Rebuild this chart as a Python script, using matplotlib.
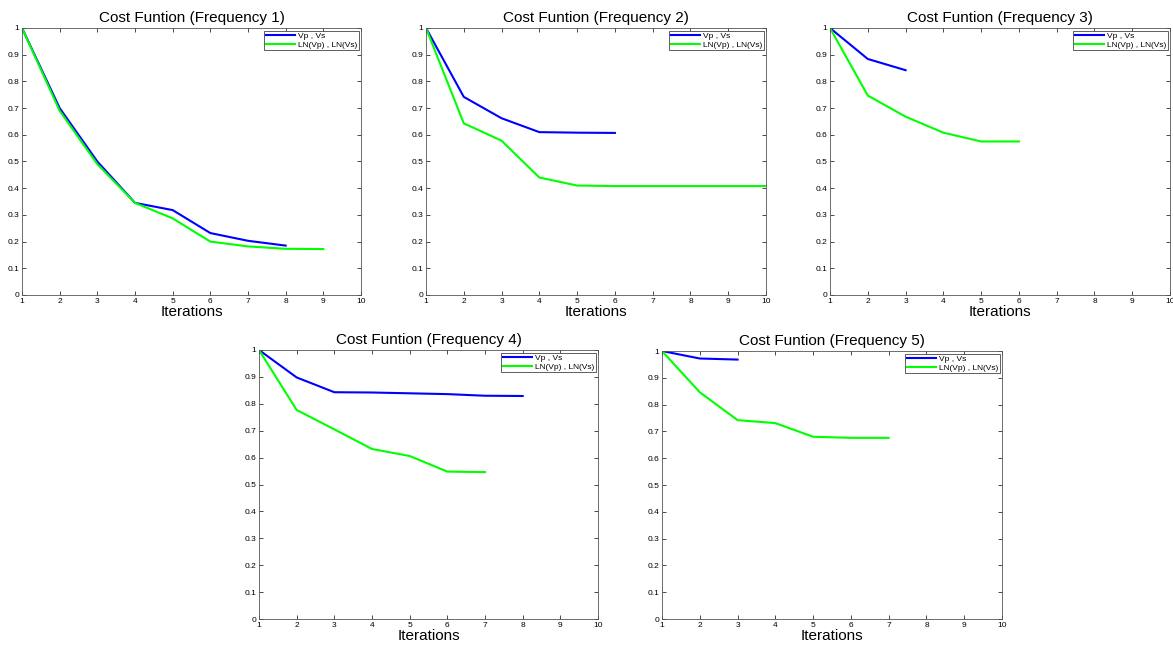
import matplotlib
matplotlib.use('Agg')
import matplotlib.pyplot as plt

plt.rcParams['font.family'] = ['Liberation Sans', 'DejaVu Sans']

# cost function values per frequency (normalised)
iters = list(range(1, 11))
f1_vp = [1.0, 0.70, 0.50, 0.345, 0.318, 0.232, 0.203, 0.185]
f1_ln = [1.0, 0.69, 0.49, 0.345, 0.287, 0.200, 0.182, 0.173, 0.172]
f2_vp = [1.0, 0.742, 0.662, 0.610, 0.608, 0.607]
f2_ln = [1.0, 0.643, 0.578, 0.440, 0.410, 0.408, 0.408, 0.408, 0.408, 0.408]
f3_vp = [1.0, 0.884, 0.842]
f3_ln = [1.0, 0.747, 0.668, 0.608, 0.575, 0.575]
f4_vp = [1.0, 0.898, 0.843, 0.842, 0.839, 0.836, 0.830, 0.829]
f4_ln = [1.0, 0.777, 0.705, 0.632, 0.606, 0.548, 0.546]
f5_vp = [1.0, 0.972, 0.968]
f5_ln = [1.0, 0.846, 0.742, 0.731, 0.680, 0.676, 0.676]

series = [(f1_vp, f1_ln), (f2_vp, f2_ln), (f3_vp, f3_ln), (f4_vp, f4_ln), (f5_vp, f5_ln)]

W, H = 1173, 645
# axes boxes in pixels: left, right, top, bottom
boxes = [(22, 361, 28, 295), (426, 766, 28, 295), (830, 1170, 28, 295),
         (259, 598, 350, 619), (662, 1002, 351, 619)]

fig = plt.figure(figsize=(W / 100, H / 100), dpi=100)

for i, ((vp, ln), (l, r, t, b)) in enumerate(zip(series, boxes)):
    ax = fig.add_axes([l / W, 1 - b / H, (r - l) / W, (b - t) / H])
    ax.plot(iters[:len(vp)], vp, color=(0, 0, 1), lw=1.5, label='Vp , Vs')
    ax.plot(iters[:len(ln)], ln, color=(0, 1, 0), lw=1.5, label='LN(Vp) , LN(Vs)')
    ax.set_xlim(1, 10)
    ax.set_ylim(0, 1)
    ax.set_xticks(iters)
    ax.set_yticks([k / 10 for k in range(11)])
    ax.set_yticklabels(['0', '0.1', '0.2', '0.3', '0.4', '0.5', '0.6', '0.7', '0.8', '0.9', '1'])
    ax.tick_params(direction='in', labelsize=6, length=3, width=0.5, top=True, right=True, pad=2)
    for s in ax.spines.values():
        s.set_linewidth(0.6)
        s.set_color('#555555')
    ax.set_title('Cost Funtion (Frequency %d)' % (i + 1), fontsize=11, pad=4)
    ax.set_xlabel('Iterations', fontsize=11, labelpad=0)
    leg = ax.legend(loc='upper right', fontsize=6, fancybox=False, framealpha=1,
                    borderaxespad=0.3, handlelength=3.5, borderpad=0.2, labelspacing=0.1,
                    handletextpad=0.3)
    leg.get_frame().set_edgecolor('#444444')
    leg.get_frame().set_linewidth(0.6)

fig.savefig('out.png', dpi=100)
